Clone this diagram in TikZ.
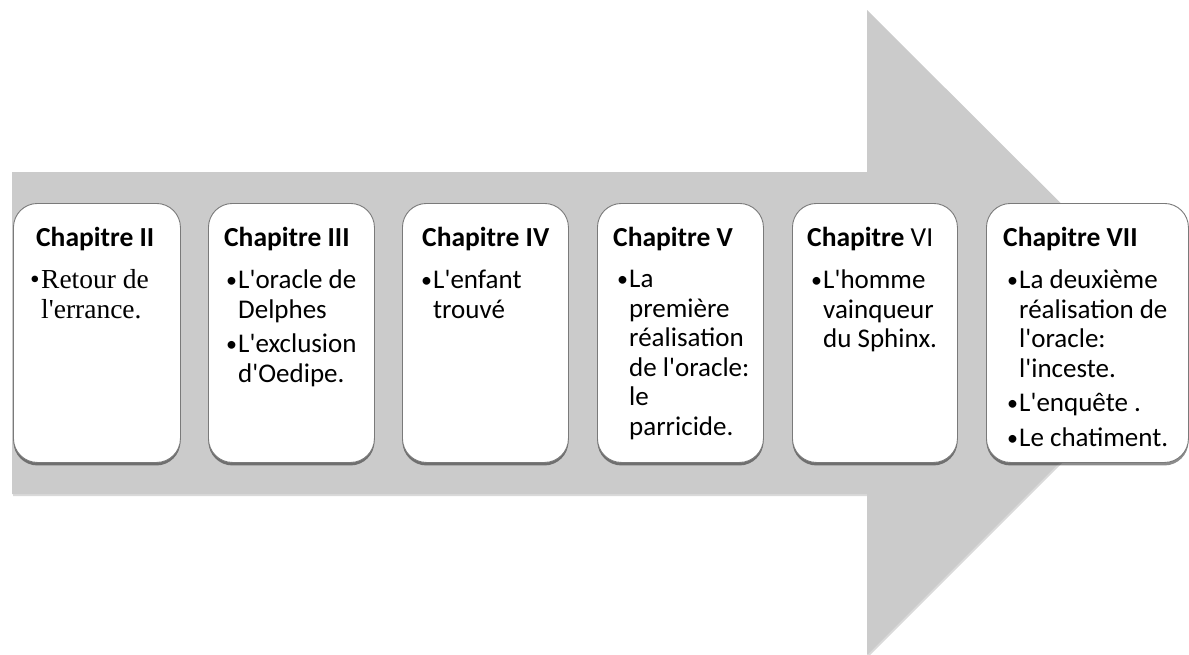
\documentclass[tikz,border=0pt]{standalone}
\usepackage{fontspec}
\newfontfamily\calfont{Carlito}
\newfontfamily\timesfont{Liberation Serif}
\usetikzlibrary{shadows,positioning}

\definecolor{arrowgray}{HTML}{CBCBCB}
\definecolor{boxline}{HTML}{7A7A7A}

% bullets (Carlito boxes / Times box)
\newcommand{\puce}{\makebox[12pt][l]{\raisebox{1.3pt}{\fontsize{22}{22}\selectfont\textbullet}}}
\newcommand{\suite}{\hspace*{12pt}}
\newcommand{\pucet}{\makebox[11pt][l]{\textbullet}}
\newcommand{\suitet}{\hspace*{11pt}}

\tikzset{
  chapbox/.style={draw=boxline, line width=0.9pt, fill=white,
    rounded corners=24pt, minimum height=259pt, anchor=north west,
    inner sep=0pt,
    drop shadow={shadow xshift=0pt, shadow yshift=-3pt, opacity=0.45, fill=black}},
  chaptitle/.style={font=\calfont\fontsize{27.5}{30}\selectfont\bfseries,
    anchor=base west, inner sep=0pt},
  chaptext/.style={font=\calfont\fontsize{27}{29.5}\selectfont,
    anchor=north west, inner sep=0pt, align=left},
}

\begin{document}
\begin{tikzpicture}[x=1pt,y=-1pt]

\useasboundingbox (0,0) rectangle (1189,654);

% Arrow
\fill[arrowgray, drop shadow={shadow xshift=1pt, shadow yshift=-2pt, opacity=0.15, fill=black}]
  (12,172) -- (867,172) -- (867,10) -- (1190,332)
  -- (867,655) -- (867,494) -- (12,494) -- cycle;

% Boxes
\node[chapbox, minimum width=167pt] (b2) at (13,203) {};
\node[chapbox, minimum width=166pt] (b3) at (208,203) {};
\node[chapbox, minimum width=166pt] (b4) at (402,203) {};
\node[chapbox, minimum width=166pt] (b5) at (597,203) {};
\node[chapbox, minimum width=165pt] (b6) at (792,203) {};
\node[chapbox, minimum width=202pt] (b7) at (986,203) {};

% Titles
\node[chaptitle] (h2) at ([xshift=23pt,yshift=-43pt]b2.north west) {Chapitre II};
\node[chaptitle] (h3) at ([xshift=16pt,yshift=-43pt]b3.north west) {Chapitre III};
\node[chaptitle] (h4) at ([xshift=20pt,yshift=-43pt]b4.north west) {Chapitre IV};
\node[chaptitle] (h5) at ([xshift=16pt,yshift=-43pt]b5.north west) {Chapitre V};
\node[chaptitle] (h6) at ([xshift=15pt,yshift=-43pt]b6.north west) {Chapitre {\mdseries VI}};
\node[chaptitle] (h7) at ([xshift=17pt,yshift=-43pt]b7.north west) {Chapitre VII};

% Contents
\node[chaptext, font=\fontsize{27.5}{30}\timesfont] (c2)
  at ([xshift=17pt,yshift=-66pt]b2.north west)
  {\pucet Retour de\\ \suitet l'errance.};
\node[chaptext] (c3) at ([xshift=18pt,yshift=-67pt]b3.north west)
  {\puce L'oracle de\\ \suite Delphes\\[5pt]
   \puce L'exclusion\\ \suite d'Oedipe.};
\node[chaptext] (c4) at ([xshift=19pt,yshift=-67pt]b4.north west)
  {\puce L'enfant\\ \suite trouvé};
\node[chaptext] (c5) at ([xshift=20pt,yshift=-67pt]b5.north west)
  {\puce La\\ \suite première\\ \suite réalisation\\ \suite de l'oracle:\\
   \suite le\\ \suite parricide.};
\node[chaptext] (c6) at ([xshift=19pt,yshift=-67pt]b6.north west)
  {\puce L'homme\\ \suite vainqueur\\ \suite du Sphinx.};
\node[chaptext] (c7) at ([xshift=21pt,yshift=-67pt]b7.north west)
  {\puce La deuxième\\ \suite réalisation de\\ \suite l'oracle:\\
   \suite l'inceste.\\[5pt]
   \puce L'enquête .\\[5pt]
   \puce Le chatiment.};

\end{tikzpicture}
\end{document}
